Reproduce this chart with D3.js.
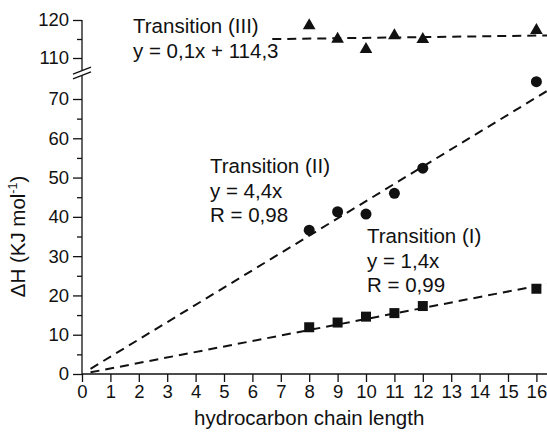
<!DOCTYPE html>
<html>
<head>
<meta charset="utf-8">
<script src="https://cdn.jsdelivr.net/npm/d3@7"></script>
<style>
  html, body { margin: 0; padding: 0; background: #fff; }
  svg { display: block; font-family: "Liberation Sans", Arial, Helvetica, sans-serif; }
</style>
</head>
<body>
<svg id="chart" width="547" height="433"></svg>
<script>
// Chain lengths measured
const chainLength = [8, 9, 10, 11, 12, 16];

// Enthalpy of each transition (kJ/mol)
const transitionI   = [11.9, 13.1, 14.6, 15.5, 17.3, 21.7];
const transitionII  = [36.6, 41.3, 40.7, 46.0, 52.4, 74.4];
const transitionIII = [118.5, 115.0, 112.3, 115.9, 114.9, 117.3];

// Linear fits: slope, intercept
const fitI   = [1.4, 0];
const fitII  = [4.4, 0];
const fitIII = [0.1, 114.3];

// Tick values
const xTicks = d3.range(0, 17);
const yLowerMajor = [0, 10, 20, 30, 40, 50, 60, 70];
const yLowerMinor = [5, 15, 25, 35, 45, 55, 65];
const yUpperMajor = [110, 120];
const yUpperMinor = [115];

const svg = d3.select("#chart");
const ink = "#111";
const textSize = 20.5;

// Scales: a broken y axis with a lower and an upper segment
const x = d3.scaleLinear().domain([0, 16]).range([82, 536.4]);
const yLow = d3.scaleLinear().domain([0, 70]).range([374, 99]);
const yUp = d3.scaleLinear().domain([110, 120]).range([58, 20]);
const lowTop = 76, upBottom = 106.7, xEnd = 16.38;

// Axis lines
svg.append("line").attr("x1", x(0)).attr("x2", x(xEnd))
  .attr("y1", yLow(0)).attr("y2", yLow(0)).attr("stroke", ink).attr("stroke-width", 1.3);
svg.append("line").attr("x1", x(0)).attr("x2", x(0))
  .attr("y1", yLow(0)).attr("y2", yLow(lowTop)).attr("stroke", ink).attr("stroke-width", 1.3);
svg.append("line").attr("x1", x(0)).attr("x2", x(0))
  .attr("y1", yUp(120)).attr("y2", yUp(upBottom)).attr("stroke", ink).attr("stroke-width", 1.3);

// Break marks
[yUp(upBottom), yLow(lowTop)].forEach(yy => {
  svg.append("line")
    .attr("x1", x(0) - 9).attr("y1", yy + 3.5)
    .attr("x2", x(0) + 9).attr("y2", yy - 3.5)
    .attr("stroke", ink).attr("stroke-width", 1.3);
});

function styleAxis(g) {
  g.select(".domain").remove();
  g.selectAll(".tick line").attr("stroke", ink).attr("stroke-width", 1.3);
  g.selectAll(".tick text").attr("fill", ink).attr("font-family", "Liberation Sans, Arial, sans-serif");
}

// X axis
svg.append("g").attr("transform", `translate(0,${yLow(0)})`)
  .call(d3.axisBottom(x).tickValues(xTicks).tickSize(8).tickPadding(3).tickFormat(d3.format("d")))
  .call(styleAxis)
  .call(g => g.selectAll(".tick text").attr("font-size", 18.5));

// Y axis, lower segment
svg.append("g").attr("transform", `translate(${x(0)},0)`)
  .call(d3.axisLeft(yLow).tickValues(yLowerMajor).tickSize(9).tickPadding(4).tickFormat(d3.format("d")))
  .call(styleAxis)
  .call(g => g.selectAll(".tick text").attr("font-size", 18.5));
svg.append("g").attr("transform", `translate(${x(0)},0)`)
  .call(d3.axisLeft(yLow).tickValues(yLowerMinor).tickSize(5).tickFormat(""))
  .call(styleAxis);

// Y axis, upper segment
svg.append("g").attr("transform", `translate(${x(0)},0)`)
  .call(d3.axisLeft(yUp).tickValues(yUpperMajor).tickSize(9).tickPadding(4).tickFormat(d3.format("d")))
  .call(styleAxis)
  .call(g => g.selectAll(".tick text").attr("font-size", 18.5));
svg.append("g").attr("transform", `translate(${x(0)},0)`)
  .call(d3.axisLeft(yUp).tickValues(yUpperMinor).tickSize(5).tickFormat(""))
  .call(styleAxis);

// Axis titles
svg.append("text").attr("x", x(8)).attr("y", 425)
  .attr("text-anchor", "middle").attr("font-size", textSize).attr("fill", ink)
  .text("hydrocarbon chain length");
const yt = svg.append("text").attr("transform", `translate(25,${yLow(35)}) rotate(-90)`)
  .attr("text-anchor", "middle").attr("font-size", textSize).attr("fill", ink);
yt.append("tspan").text("ΔH (KJ mol");
yt.append("tspan").attr("font-size", 12.5).attr("dy", -8).text("-1");
yt.append("tspan").attr("dy", 8).text(")");

// Fit lines (dashed)
const dash = "9,6";
function fitLine(fit, x0, x1, ys) {
  svg.append("line")
    .attr("x1", x(x0)).attr("y1", ys(fit[0] * x0 + fit[1]))
    .attr("x2", x(x1)).attr("y2", ys(fit[0] * x1 + fit[1]))
    .attr("stroke", ink).attr("stroke-width", 2).attr("stroke-dasharray", dash);
}
fitLine(fitI, 0.3, xEnd, yLow);
fitLine(fitII, 0.3, xEnd, yLow);
fitLine(fitIII, 6.7, xEnd, yUp);

// Markers
const pts = (vals) => chainLength.map((c, i) => ({ c, v: vals[i] }));

svg.append("g").selectAll("rect").data(pts(transitionI)).join("rect")
  .attr("x", d => x(d.c) - 5).attr("y", d => yLow(d.v) - 5)
  .attr("width", 10).attr("height", 10).attr("fill", ink);

svg.append("g").selectAll("circle").data(pts(transitionII)).join("circle")
  .attr("cx", d => x(d.c)).attr("cy", d => yLow(d.v)).attr("r", 5.5).attr("fill", ink);

const tri = d3.symbol().type(d3.symbolTriangle).size(70);
svg.append("g").selectAll("path").data(pts(transitionIII)).join("path")
  .attr("transform", d => `translate(${x(d.c)},${yUp(d.v)})`)
  .attr("d", tri).attr("fill", ink);

// Annotations
function note(x0, y0, lines) {
  const t = svg.append("text").attr("font-size", textSize).attr("fill", ink);
  lines.forEach((s, i) => t.append("tspan").attr("x", x0).attr("y", y0 + i * 24.5).text(s));
}
note(133, 33, ["Transition (III)", "y = 0,1x + 114,3"]);
note(210, 173, ["Transition (II)", "y = 4,4x", "R = 0,98"]);
note(367, 243, ["Transition (I)", "y = 1,4x", "R = 0,99"]);
</script>
</body>
</html>
